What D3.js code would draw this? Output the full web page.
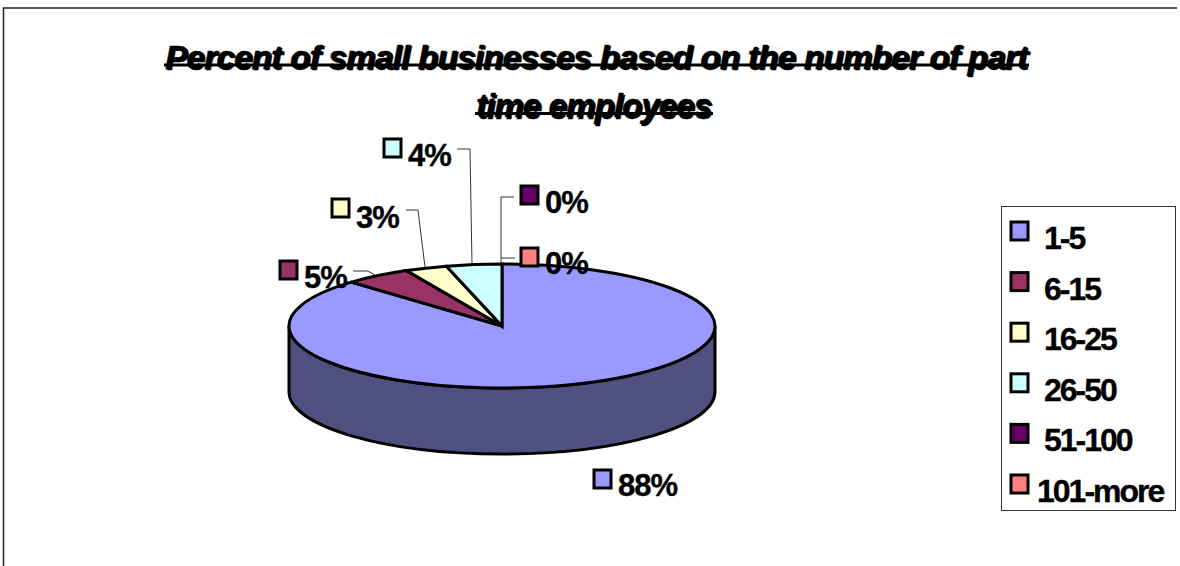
<!DOCTYPE html>
<html><head><meta charset="utf-8">
<script src="https://cdn.jsdelivr.net/npm/d3@7"></script>
<style>html,body{margin:0;background:#fff;overflow:hidden}svg{display:block}
text{font-family:"Liberation Sans",Arial,sans-serif;font-weight:bold;fill:#000;stroke:#000;stroke-width:.35px}</style></head>
<body><svg id="c" width="1180" height="566"></svg>
<script>
const categories=["1-5","6-15","16-25","26-50","51-100","101-more"];
const shares=[87.5,5.1,3.2,4.2,0,0];
const labels=["88%","5%","3%","4%","0%","0%"];
const colors=["#9999FF","#993366","#FFFFCC","#CCFFFF","#660066","#FF8080"];
const titleLines=["Percent of small businesses based on the number of part","time employees"];

const svg=d3.select("#c");
const cx=502,cy=326,rx=213,ry=62,depth=66;
const X=d3.scaleLinear().domain([-1,1]).range([cx-rx,cx+rx]);
const Y=d3.scaleLinear().domain([-1,1]).range([cy-ry,cy+ry]);
const pie=d3.pie().sort(null).startAngle(0).endAngle(2*Math.PI)(shares);
const pt=a=>[X(Math.sin(a)),Y(-Math.cos(a))];

// frame
svg.append("path").attr("d","M3.5,566V8H1177").attr("fill","none").attr("stroke","#222").attr("stroke-width",1.5);

// title
const titleX=[596.5,594],titleY=[68.5,117],titleW=[863,236];
titleLines.forEach((t,i)=>{
  [[1.5,1.5],[0,0]].forEach(o=>{
    svg.append("text").attr("x",titleX[i]+o[0]).attr("y",titleY[i]+o[1]).attr("text-anchor","middle")
      .attr("font-size",33).attr("font-style","italic").attr("textLength",titleW[i]).attr("lengthAdjust","spacing").text(t);
  });
  svg.append("rect").attr("x",titleX[i]-titleW[i]/2-1).attr("width",titleW[i]+2).attr("y",titleY[i]-5).attr("height",3).attr("fill","#000");
});

// rim
svg.append("path")
 .attr("d",`M${X(-1)},${cy}A${rx},${ry} 0 0 0 ${X(1)},${cy}V${cy+depth}A${rx},${ry} 0 0 1 ${X(-1)},${cy+depth}Z`)
 .attr("fill","#4F4F80").attr("stroke","#000").attr("stroke-width",3);

// top slices
pie.forEach((d,i)=>{
  if(d.value===0)return;
  const [x0,y0]=pt(d.startAngle),[x1,y1]=pt(d.endAngle);
  const large=d.endAngle-d.startAngle>Math.PI?1:0;
  svg.append("path").attr("d",`M${cx},${cy}L${x0},${y0}A${rx},${ry} 0 ${large} 1 ${x1},${y1}Z`)
    .attr("fill",colors[i]).attr("stroke","#000").attr("stroke-width",3).attr("stroke-linejoin","miter");
});

// leader lines
const leaders=[[],[[375,275],[368,271],[353,271]],[[425,267],[418,210],[406,210]],[[472,264],[470,149],[457,149]],[[501,263],[501,197],[514,197]],[[501,258],[515,258]]];
const line=d3.line();
leaders.forEach(p=>{ if(p.length) svg.append("path").attr("d",line(p)).attr("fill","none").attr("stroke","#333").attr("stroke-width",1);});

// data labels
const swatch=(x,y,i)=>svg.append("rect").attr("x",x).attr("y",y).attr("width",17).attr("height",18)
  .attr("fill",colors[i]).attr("stroke","#000").attr("stroke-width",3);
const labelPos=[[594,470,618,496],[280,261,304,288],[332,199,356,228],[384,139,408,166],[521,186,545,213],[521,248,545,274]];
labels.forEach((v,i)=>{
  const [sx,sy,tx,ty]=labelPos[i];
  swatch(sx,sy,i);
  svg.append("text").attr("x",tx).attr("y",ty).attr("font-size",31).attr("letter-spacing",-1).text(v);
});

// legend
svg.append("rect").attr("x",1001.5).attr("y",206.5).attr("width",174).attr("height",304).attr("fill","none").attr("stroke","#333").attr("stroke-width",1);
const legY=d3.scalePoint().domain(categories).range([222,475]);
categories.forEach((c,i)=>{
  const y=legY(c);
  swatch(1011,y,i);
  svg.append("text").attr("x",i==5?1037:1044).attr("y",y+27).attr("font-size",32).attr("letter-spacing",-2).text(c);
});
</script></body></html>
